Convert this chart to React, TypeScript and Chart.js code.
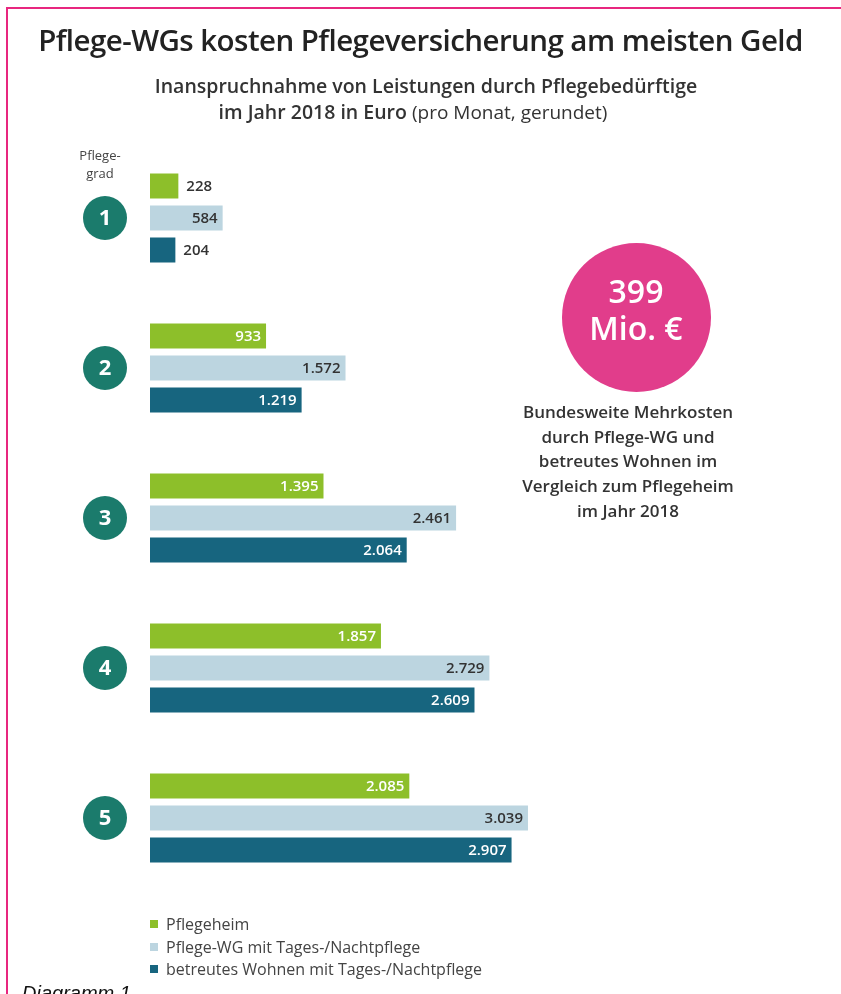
import React, { useEffect, useRef } from 'react';
import { Chart, registerables } from 'chart.js';

Chart.register(...registerables);

const grades = ['1', '2', '3', '4', '5'];
const seriesLabels = [
  'Pflegeheim',
  'Pflege-WG mit Tages-/Nachtpflege',
  'betreutes Wohnen mit Tages-/Nachtpflege',
];
const pflegeheim = [228, 933, 1395, 1857, 2085];
const pflegeWG = [584, 1572, 2461, 2729, 3039];
const betreutesWohnen = [204, 1219, 2064, 2609, 2907];
const seriesColors = ['#8dbf2a', '#bcd5e0', '#17657f'];
const insideTextColors = ['#ffffff', '#333333', '#ffffff'];

const FONT = '"Open Sans", "Noto Sans", sans-serif';

const fmt = (n: number) => String(n).replace(/\B(?=(\d{3})+(?!\d))/g, '.');

const valueLabelPlugin = {
  id: 'valueLabels',
  afterDatasetsDraw(chart: any) {
    const ctx = chart.ctx;
    ctx.save();
    ctx.font = `600 15px ${FONT}`;
    ctx.textBaseline = 'middle';
    chart.data.datasets.forEach((ds: any, di: number) => {
      const meta = chart.getDatasetMeta(di);
      meta.data.forEach((el: any, i: number) => {
        const text = fmt(ds.data[i]);
        const w = ctx.measureText(text).width;
        const barW = el.x - el.base;
        if (w + 12 > barW) {
          ctx.fillStyle = '#333333';
          ctx.textAlign = 'left';
          ctx.fillText(text, el.x + 8, el.y + 1);
        } else {
          ctx.fillStyle = insideTextColors[di];
          ctx.textAlign = 'right';
          ctx.fillText(text, el.x - 5, el.y + 1);
        }
      });
    });
    ctx.restore();
  },
};

const gradeCirclePlugin = {
  id: 'gradeCircles',
  afterDraw(chart: any) {
    const ctx = chart.ctx;
    const yScale = chart.scales.y;
    ctx.save();
    chart.data.labels.forEach((lab: string, i: number) => {
      const y = yScale.getPixelForValue(i);
      ctx.beginPath();
      ctx.arc(105, y, 22, 0, Math.PI * 2);
      ctx.fillStyle = '#1b7b6c';
      ctx.fill();
      ctx.fillStyle = '#ffffff';
      ctx.font = `700 22px ${FONT}`;
      ctx.textAlign = 'center';
      ctx.textBaseline = 'middle';
      ctx.fillText(lab, 105, y + 1);
    });
    ctx.restore();
  },
};

export default function App() {
  const ref = useRef<HTMLCanvasElement>(null);

  useEffect(() => {
    const chart = new Chart(ref.current as HTMLCanvasElement, {
      type: 'bar',
      data: {
        labels: grades,
        datasets: [
          { label: seriesLabels[0], data: pflegeheim, backgroundColor: seriesColors[0] },
          { label: seriesLabels[1], data: pflegeWG, backgroundColor: seriesColors[1] },
          { label: seriesLabels[2], data: betreutesWohnen, backgroundColor: seriesColors[2] },
        ],
      },
      options: {
        indexAxis: 'y',
        animation: false,
        responsive: false,
        maintainAspectRatio: false,
        layout: { padding: { left: 150, top: 143, bottom: 101, right: 193.5 } },
        datasets: { bar: { categoryPercentage: 0.64, barPercentage: 0.78, borderWidth: 0 } },
        scales: {
          x: { display: false, min: 0, max: 4000 },
          y: { display: false },
        },
        plugins: {
          legend: { display: false },
          tooltip: { enabled: false },
        },
      } as any,
      plugins: [valueLabelPlugin, gradeCirclePlugin],
    });
    return () => chart.destroy();
  }, []);

  const abs = (style: React.CSSProperties): React.CSSProperties => ({ position: 'absolute', ...style });

  return (
    <div
      style={{
        position: 'absolute',
        left: 0,
        top: 0,
        width: 841,
        height: 994,
        overflow: 'hidden',
        background: '#ffffff',
        fontFamily: FONT,
      }}
    >
      <div
        style={abs({
          left: 6,
          top: 7,
          width: 1000,
          height: 1200,
          borderLeft: '2px solid #e8267f',
          borderTop: '2px solid #e8267f',
        })}
      />
      <canvas ref={ref} width={841} height={994} style={abs({ left: 0, top: 0 })} />
      <div
        style={abs({
          left: 0,
          width: 841,
          top: 19,
          textAlign: 'center',
          fontSize: 29.5,
          fontWeight: 600,
          color: '#222',
          letterSpacing: -0.55,
          whiteSpace: 'nowrap',
        })}
      >
        Pflege-WGs kosten Pflegeversicherung am meisten Geld
      </div>
      <div
        style={abs({
          left: 0,
          width: 852,
          top: 73,
          textAlign: 'center',
          fontSize: 19.5,
          fontWeight: 600,
          color: '#333',
          lineHeight: '26px',
          whiteSpace: 'nowrap',
        })}
      >
        Inanspruchnahme von Leistungen durch Pflegebedürftige
      </div>
      <div
        style={abs({
          left: 0,
          width: 826,
          top: 99,
          textAlign: 'center',
          fontSize: 19.5,
          fontWeight: 600,
          color: '#333',
          lineHeight: '26px',
          whiteSpace: 'nowrap',
        })}
      >
        im Jahr 2018 in Euro <span style={{ fontSize: 19, fontWeight: 500 }}>(pro Monat, gerundet)</span>
      </div>
      <div
        style={abs({
          left: 70,
          width: 60,
          top: 146,
          textAlign: 'center',
          fontSize: 13,
          fontWeight: 500,
          color: '#444',
          lineHeight: '18px',
        })}
      >
        Pflege-
        <br />
        grad
      </div>
      <div
        style={abs({
          left: 562,
          top: 243,
          width: 149,
          height: 149,
          borderRadius: '50%',
          background: '#e13d8b',
        })}
      />
      <div
        style={abs({
          left: 536,
          width: 200,
          top: 272,
          textAlign: 'center',
          color: '#fff',
          fontSize: 32,
          fontWeight: 600,
          lineHeight: '37px',
        })}
      >
        399
        <br />
        Mio. €
      </div>
      <div
        style={abs({
          left: 478,
          width: 300,
          top: 400,
          textAlign: 'center',
          color: '#333',
          fontSize: 17,
          fontWeight: 600,
          lineHeight: '24.7px',
        })}
      >
        Bundesweite Mehrkosten
        <br />
        durch Pflege-WG und
        <br />
        betreutes Wohnen im
        <br />
        Vergleich zum Pflegeheim
        <br />
        im Jahr 2018
      </div>
      <div style={abs({ left: 150, top: 913, fontSize: 16, color: '#444', lineHeight: '22.5px' })}>
        {seriesLabels.map((l, i) => (
          <div key={l} style={{ display: 'flex', alignItems: 'center', whiteSpace: 'nowrap' }}>
            <span
              style={{
                display: 'inline-block',
                width: 8,
                height: 8,
                background: seriesColors[i],
                marginRight: 8,
              }}
            />
            {l}
          </div>
        ))}
      </div>
      <div
        style={abs({
          left: 22,
          top: 982,
          fontSize: 20,
          fontStyle: 'italic',
          fontFamily: '"Liberation Sans", Arial, sans-serif',
          color: '#111',
          whiteSpace: 'nowrap',
        })}
      >
        Diagramm 1
      </div>
    </div>
  );
}
